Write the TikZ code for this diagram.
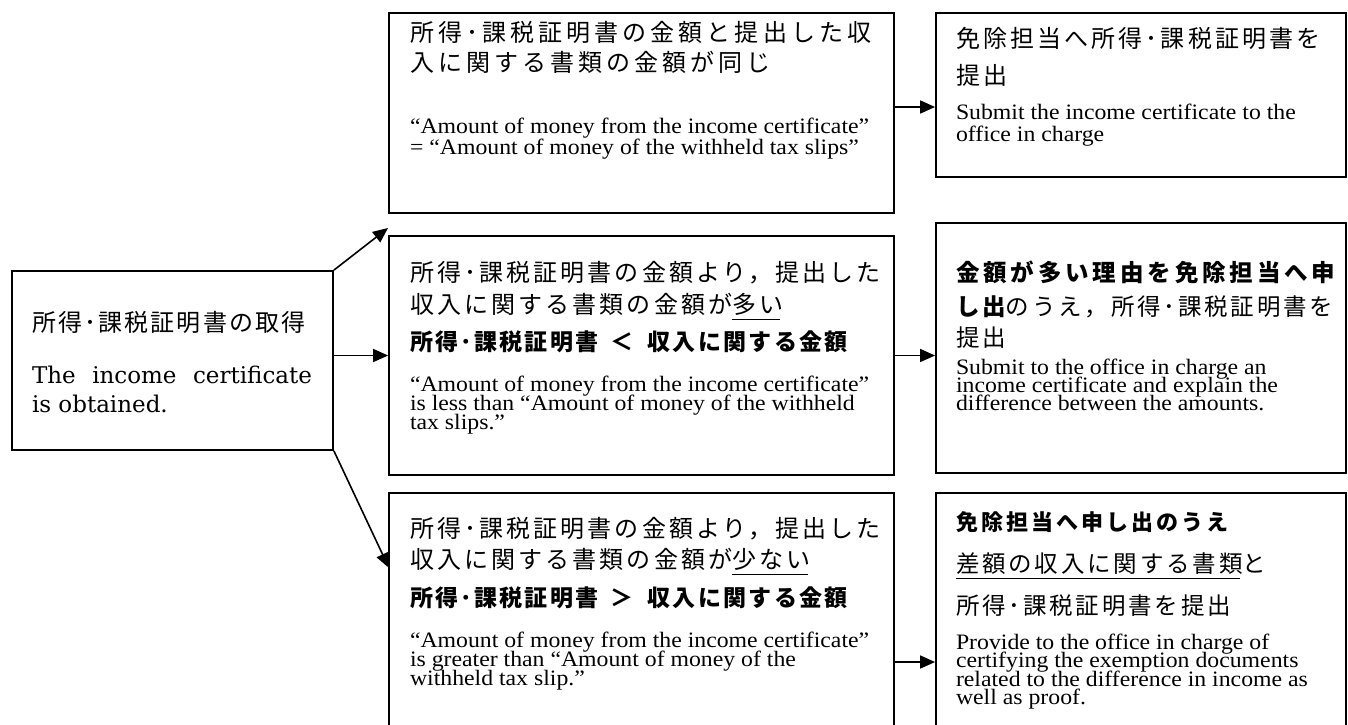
\documentclass[tikz,border=0pt]{standalone}
\usepackage{fontspec}
\setmainfont{Liberation Serif}[FakeStretch=1.08]
\newfontfamily\lbfont{DejaVu Serif}
\newfontfamily\jpT{Noto Sans CJK JP}[LetterSpace=17]
\newfontfamily\jpA{Noto Sans CJK JP}[LetterSpace=13]
\newfontfamily\jpB{Noto Sans CJK JP}[LetterSpace=12]
\newfontfamily\jpL{Noto Sans CJK JP}[LetterSpace=9]
\newfontfamily\jpG{Noto Sans CJK JP}[LetterSpace=10]
\newfontfamily\jpK{Noto Sans CJK JP}[LetterSpace=14]
\newfontfamily\jpH{Noto Sans CJK JP}[LetterSpace=16.5]
\usetikzlibrary{arrows.meta}
\newcommand\jpul[1]{\setbox0\hbox{#1}\rlap{\rule[-7pt]{\dimexpr\wd0-3pt\relax}{1.5pt}}\box0}
\tikzset{
  box/.style={draw, line width=1.8pt, rectangle, inner sep=0pt},
  arr/.style={line width=1.6pt, -{Triangle[length=15pt,width=13pt]}},
  tl/.style={anchor=base west, inner sep=0pt, outer sep=0pt},
  jpt/.style={tl, font=\jpT\fontsize{24}{24}\selectfont},
  jpm/.style={tl, font=\jpA\fontsize{24}{24}\selectfont},
  jpb/.style={tl, font=\jpB\fontsize{23.5}{24}\selectfont},
  jpl/.style={tl, font=\jpL\fontsize{24}{24}\selectfont},
  jpg/.style={tl, font=\jpG\bfseries\fontsize{23}{23}\selectfont},
  jpgb/.style={tl, font=\jpK\bfseries\fontsize{22}{22}\selectfont},
  jph/.style={tl, font=\jpH\bfseries\fontsize{23.5}{24}\selectfont},
  en/.style={tl, font=\fontsize{22}{22}\selectfont},
  lbe/.style={tl, font=\lbfont\fontsize{23}{23}\selectfont},
}
\begin{document}
\begin{tikzpicture}[x=1pt,y=-1pt]
\path[use as bounding box] (0,0) rectangle (1348,724);
\clip (0,0) rectangle (1348,724);
% boxes
\node[box, minimum width=321pt, minimum height=179pt] (lb) at (172.5,360.5) {};
\node[box, minimum width=505pt, minimum height=200pt] (tm) at (641.5,113) {};
\node[box, minimum width=410pt, minimum height=164pt] (tr) at (1141,95) {};
\node[box, minimum width=505pt, minimum height=239pt] (mm) at (641.5,355.5) {};
\node[box, minimum width=410pt, minimum height=250pt] (mr) at (1141,348) {};
\node[box, minimum width=505pt, minimum height=267pt] (bm) at (641.5,626.5) {};
\node[box, minimum width=410pt, minimum height=267pt] (br) at (1141,626.5) {};
% left box text
\node[jpl] (lb1) at (32,331) {所得･課税証明書の取得};
\node[lbe] (lb2) at (32,383) {\makebox[280pt][s]{The income certificate}};
\node[lbe] (lb3) at (32,412) {is obtained.};
% top middle
\node[jpt] (tm1) at (410,41) {所得･課税証明書の金額と提出した収};
\node[jpt] (tm2) at (410,71) {入に関する書類の金額が同じ};
\node[en] (tm3) at (410,133) {“Amount of money from the income certificate”};
\node[en] (tm4) at (410,154) {= “Amount of money of the withheld tax slips”};
% top right
\node[jpm] (tr1) at (956,47) {免除担当へ所得･課税証明書を};
\node[jpm] (tr2) at (956,84) {提出};
\node[en] (tr3) at (956,119) {Submit the income certificate to the};
\node[en] (tr4) at (956,141) {office in charge};
% middle middle
\node[jpm] (mm1) at (410,281) {所得･課税証明書の金額より，提出した};
\node[jpm] (mm2) at (410,313) {収入に関する書類の金額が\jpul{多い}};
\node[jpg] (mm3) at (410,350) {所得･課税証明書\hspace{12pt}＜\hspace{14pt}収入に関する金額};
\node[en] (mm4) at (410,391) {“Amount of money from the income certificate”};
\node[en] (mm5) at (410,410) {is less than “Amount of money of the withheld};
\node[en] (mm6) at (410,429) {tax slips.”};
% middle right
\node[jph] (mr1) at (956,281) {金額が多い理由を免除担当へ申};
\node[jpb] (mr2) at (956,315) {{\jpB\bfseries し出}のうえ，所得･課税証明書を};
\node[jpb] (mr3) at (956,346) {提出};
\node[en] (mr4) at (956,374) {Submit to the office in charge an};
\node[en] (mr5) at (956,392) {income certificate and explain the};
\node[en] (mr6) at (956,410) {difference between the amounts.};
% bottom middle
\node[jpm] (bm1) at (410,537) {所得･課税証明書の金額より，提出した};
\node[jpm] (bm2) at (410,568) {収入に関する書類の金額が\jpul{少ない}};
\node[jpg] (bm3) at (410,606) {所得･課税証明書\hspace{12pt}＞\hspace{14pt}収入に関する金額};
\node[en] (bm4) at (410,647) {“Amount of money from the income certificate”};
\node[en] (bm5) at (410,666) {is greater than “Amount of money of the};
\node[en] (bm6) at (410,685) {withheld tax slip.”};
% bottom right
\node[jpgb] (br1) at (956,530) {免除担当へ申し出のうえ};
\node[jpb] (br2) at (956,572) {\jpul{差額の収入に関する書類}と};
\node[jpb] (br3) at (956,614) {所得･課税証明書を提出};
\node[en] (br4) at (956,649) {Provide to the office in charge of};
\node[en] (br5) at (956,667) {certifying the exemption documents};
\node[en] (br6) at (956,686) {related to the difference in income as};
\node[en] (br7) at (956,704) {well as proof.};
% connectors
\coordinate (up) at (388,228);
\coordinate (dn) at (389,568);
\coordinate (a1) at (0,107);
\coordinate (a3) at (0,662);
\draw[arr] (lb.north east) -- (up);
\draw[arr] (lb.east |- mm.west) -- (mm.west);
\draw[arr] (lb.south east) -- (dn);
\draw[arr] (tm.east |- a1) -- (tr.west |- a1);
\draw[arr] (mm.east) -- (mr.west |- mm.east);
\draw[arr] (bm.east |- a3) -- (br.west |- a3);
\end{tikzpicture}
\end{document}
